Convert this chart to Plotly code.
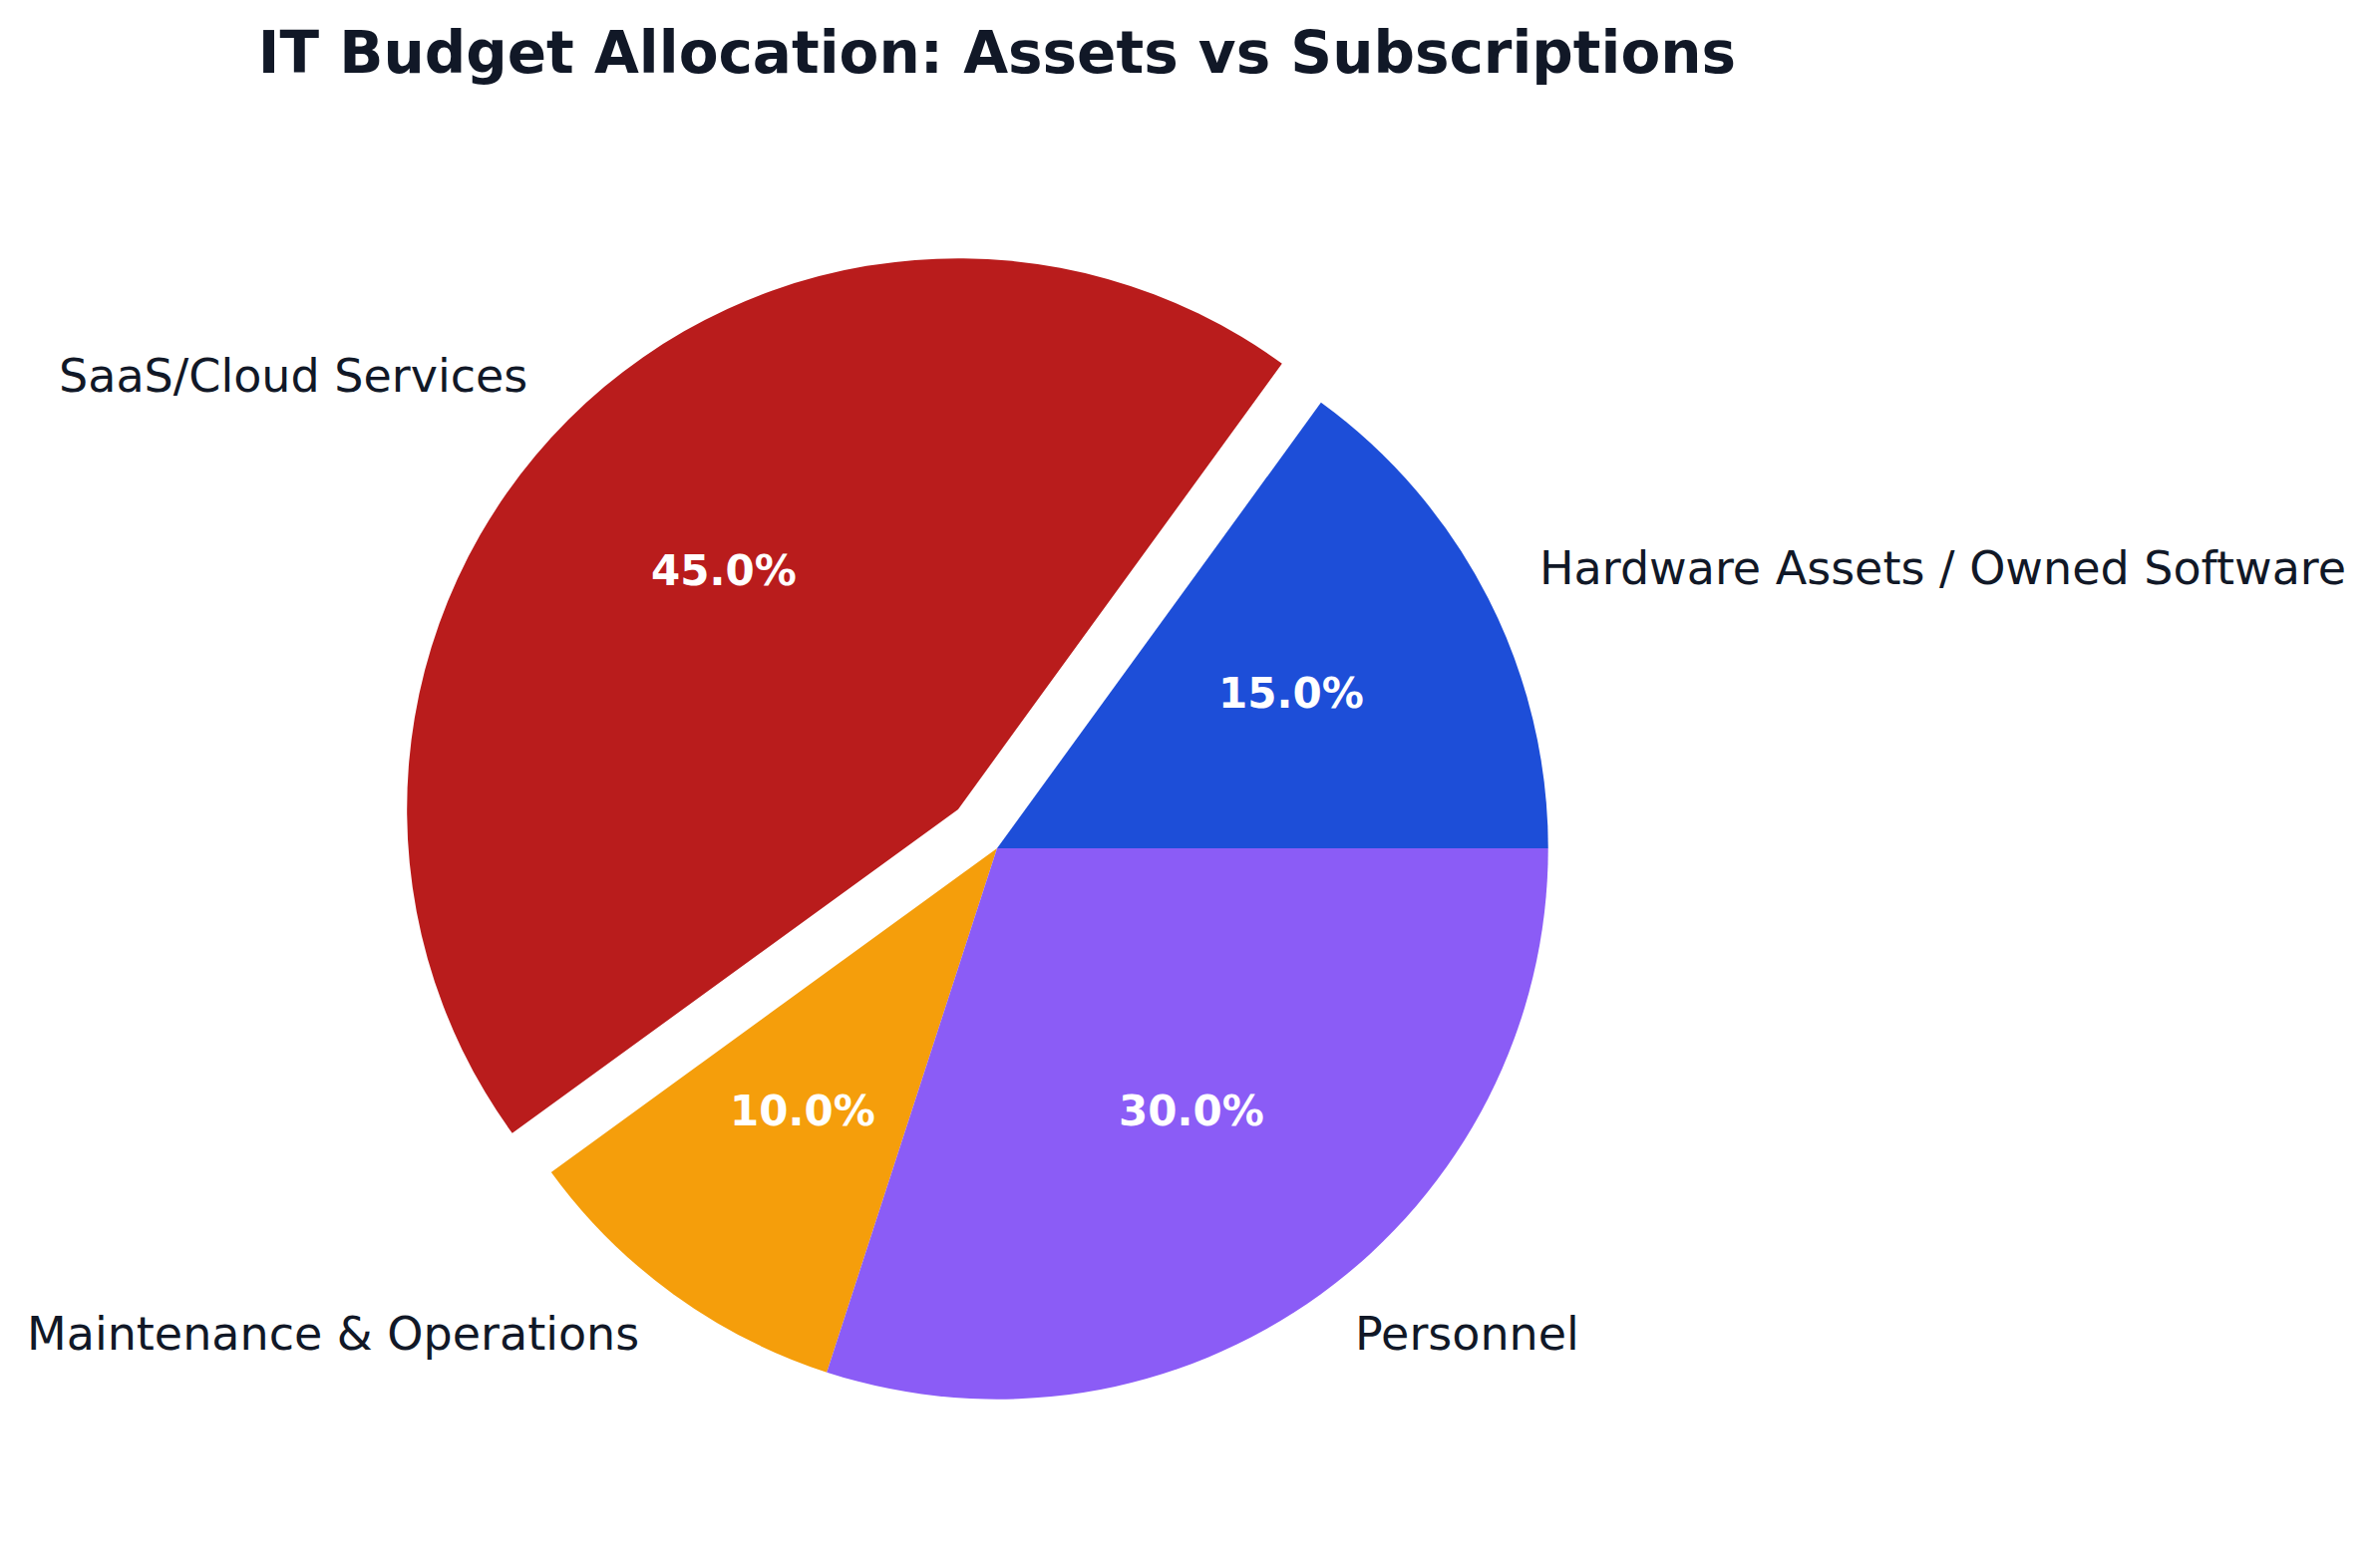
import math
import plotly.graph_objects as go

categories = ["Hardware Assets / Owned Software", "SaaS/Cloud Services",
              "Maintenance & Operations", "Personnel"]
values = [15, 45, 10, 30]
colors = ["#1d4ed8", "#b91c1c", "#f59e0b", "#8b5cf6"]
explode = [0, 0.1, 0, 0]

TEXT = "#111827"
FONT = "DejaVu Sans"
W, H = 2384, 1573
ML, MR, MT, MB = 392, 776, 243, 114

total = sum(values)
# plotly's counterclockwise pies end the first slice at `rotation`,
# so shift so the first slice starts at 3 o'clock
rotation = 90 - values[0] / total * 360

fig = go.Figure(go.Pie(
    labels=categories, values=values, sort=False,
    direction="counterclockwise", rotation=rotation,
    pull=explode, textinfo="none", hoverinfo="label+percent",
    marker=dict(colors=colors, line=dict(width=0)),
    showlegend=False,
))

# label / percentage positions derived from the slice angles
maxpull = max(explode)
scale = 1.0 / (2 * (1 + maxpull))  # radius as a fraction of the pie box
start = 0.0
annotations = []
for cat, v, ex in zip(categories, values, explode):
    frac = v / total
    mid = math.radians((start + frac / 2) * 360)
    start += frac
    cx = 0.5 + ex * scale * math.cos(mid)
    cy = 0.5 + ex * scale * math.sin(mid)
    lx = cx + 1.1 * scale * math.cos(mid)
    ly = cy + 1.1 * scale * math.sin(mid)
    annotations.append(dict(
        x=lx, y=ly, xref="paper", yref="paper", text=cat, showarrow=False,
        xanchor="left" if math.cos(mid) > 0 else "right", yanchor="middle",
        yshift=5,
        font=dict(family=FONT, size=46, color=TEXT)))
    px = cx + 0.6 * scale * math.cos(mid)
    py = cy + 0.6 * scale * math.sin(mid)
    annotations.append(dict(
        x=px, y=py, xref="paper", yref="paper", text=f"{frac*100:.1f}%",
        showarrow=False, xanchor="center", yanchor="middle", yshift=5,
        font=dict(family=FONT, size=42, color="white", weight="bold")))

fig.update_layout(
    width=W, height=H,
    margin=dict(l=ML, r=MR, t=MT, b=MB),
    paper_bgcolor="white", plot_bgcolor="white",
    title=dict(text="IT Budget Allocation: Assets vs Subscriptions",
               x=1000 / W, xanchor="center", y=1 - 53 / H, yanchor="middle",
               xref="container", yref="container",
               font=dict(family=FONT, size=58, color=TEXT, weight="bold")),
    annotations=annotations,
)

fig.write_html("out.html")
